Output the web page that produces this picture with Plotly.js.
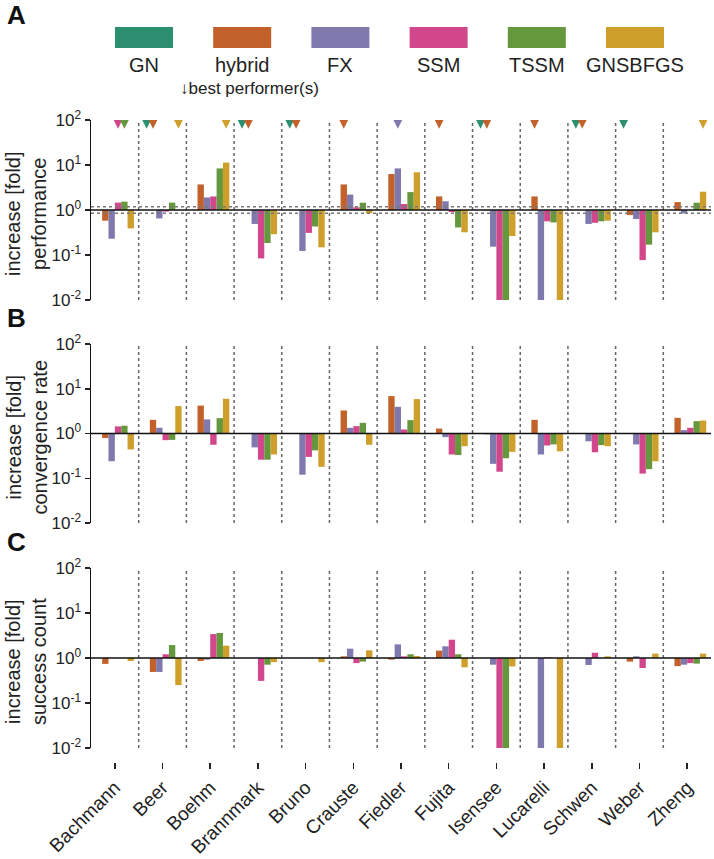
<!DOCTYPE html>
<html>
<head>
<meta charset="utf-8">
<script src="https://cdn.plot.ly/plotly-3.0.1.min.js"></script>
<style>html,body{margin:0;padding:0;background:#fff}</style>
</head>
<body>
<div id="chart" style="width:714px;height:859px"></div>
<script>
var models = ['Bachmann', 'Beer', 'Boehm', 'Brannmark', 'Bruno', 'Crauste', 'Fiedler',
              'Fujita', 'Isensee', 'Lucarelli', 'Schwen', 'Weber', 'Zheng'];
var methods = ['GN', 'hybrid', 'FX', 'SSM', 'TSSM', 'GNSBFGS'];
var colors = ['#2b8f70', '#c2622a', '#7f79ae', '#d2478b', '#65973c', '#cf9f2c'];

// fold increase relative to GN (GN is the reference, so it stays at 1)
var perfGN      = [1, 1, 1, 1, 1, 1, 1, 1, 1, 1, 1, 1, 1];
var perfHybrid  = [0.58, 1, 3.7, 1, 1, 3.7, 6.3, 2.0, 0.97, 2.0, 1, 0.77, 1.5];
var perfFX      = [0.23, 0.65, 1.9, 0.49, 0.123, 2.2, 8.4, 1.56, 0.153, 0.01, 0.49, 0.63, 0.84];
var perfSSM     = [1.46, 0.92, 2.0, 0.084, 0.31, 1.15, 1.36, 0.9, 0.01, 0.56, 0.52, 0.077, 1];
var perfTSSM    = [1.53, 1.46, 8.4, 0.185, 0.43, 1.45, 2.5, 0.41, 0.01, 0.53, 0.56, 0.17, 1.45];
var perfGNSBFGS = [0.39, 1, 11.3, 0.29, 0.148, 0.85, 6.9, 0.32, 0.264, 0.01, 0.58, 0.32, 2.55];

var convGN      = [1, 1, 1, 1, 1, 1, 1, 1, 1, 1, 1, 1, 1];
var convHybrid  = [0.79, 2.02, 4.2, 1, 0.98, 3.27, 6.85, 1.29, 0.96, 2.02, 1.01, 0.98, 2.24];
var convFX      = [0.24, 1.34, 2.06, 0.49, 0.12, 1.34, 3.95, 0.83, 0.21, 0.34, 0.67, 0.57, 1.19];
var convSSM     = [1.44, 0.71, 0.56, 0.26, 0.30, 1.46, 1.23, 0.34, 0.14, 0.54, 0.38, 0.127, 1.34];
var convTSSM    = [1.49, 0.72, 2.2, 0.26, 0.42, 1.73, 1.99, 0.33, 0.28, 0.57, 0.55, 0.16, 1.89];
var convGNSBFGS = [0.44, 4.1, 5.97, 0.34, 0.18, 0.56, 5.87, 0.52, 0.39, 0.40, 0.52, 0.24, 1.95];

var succGN      = [1, 1, 1, 1, 1, 1, 1, 1, 1, 1, 1, 1, 1];
var succHybrid  = [0.74, 0.49, 0.86, 1, 1, 1.09, 0.92, 1.46, 1, 1, 1, 0.83, 0.66];
var succFX      = [1, 0.49, 0.92, 1, 1, 1.61, 2.01, 1.82, 0.71, 0.01, 0.70, 1.09, 0.71];
var succSSM     = [1, 1.21, 3.4, 0.31, 1, 0.77, 1.09, 2.55, 0.01, 1.03, 1.31, 0.6, 0.77];
var succTSSM    = [1, 1.94, 3.6, 0.71, 1, 0.83, 1.21, 1.21, 0.01, 1, 1, 1, 0.75];
var succGNSBFGS = [0.86, 0.25, 1.88, 0.81, 0.81, 1.48, 1.11, 0.62, 0.65, 0.01, 1.09, 1.25, 1.25];

// best performer(s) per model, by method
var bestGN      = ['Beer', 'Brannmark', 'Bruno', 'Isensee', 'Schwen', 'Weber'];
var bestHybrid  = ['Beer', 'Brannmark', 'Bruno', 'Crauste', 'Fujita', 'Isensee', 'Lucarelli', 'Schwen'];
var bestFX      = ['Fiedler'];
var bestSSM     = ['Bachmann'];
var bestTSSM    = ['Bachmann'];
var bestGNSBFGS = ['Beer', 'Boehm', 'Zheng'];

var tolerance = [0.85, 1.18];

// page geometry (pixels)
var W = 714, H = 859, L = 91, R = 3, T = 120, B = 97;
function px(x) { return (x - L) / (W - L - R); }
function py(y) { return (H - B - y) / (H - T - B); }

var font = 'Liberation Sans, Arial, sans-serif';

var panels = [
  {yaxis: 'y',  vals: [perfGN, perfHybrid, perfFX, perfSSM, perfTSSM, perfGNSBFGS],
   top: 120, bottom: 300, label: 'A', title: 'increase [fold]<br>performance'},
  {yaxis: 'y2', vals: [convGN, convHybrid, convFX, convSSM, convTSSM, convGNSBFGS],
   top: 344, bottom: 523, label: 'B', title: 'increase [fold]<br>convergence rate'},
  {yaxis: 'y3', vals: [succGN, succHybrid, succFX, succSSM, succTSSM, succGNSBFGS],
   top: 568, bottom: 748, label: 'C', title: 'increase [fold]<br>success count'}
];
var best = [bestGN, bestHybrid, bestFX, bestSSM, bestTSSM, bestGNSBFGS];

var data = [];
panels.forEach(function(p) {
  methods.forEach(function(m, k) {
    var v = p.vals[k];
    data.push({
      type: 'bar',
      name: m,
      x: models,
      y: v.map(function(d) { return Math.abs(d - 1); }),
      base: v.map(function(d) { return Math.min(d, 1); }),
      xaxis: 'x',
      yaxis: p.yaxis,
      offsetgroup: m,
      marker: {color: colors[k], line: {width: 0}},
      showlegend: false,
      hoverinfo: 'skip'
    });
  });
});

methods.forEach(function(m, k) {
  data.push({
    type: 'scatter',
    mode: 'markers',
    name: m,
    x: best[k],
    y: best[k].map(function() { return 64; }),
    xaxis: 'x',
    yaxis: 'y',
    offsetgroup: m,
    marker: {symbol: 'arrow-down', size: 12, color: colors[k]},
    showlegend: false,
    hoverinfo: 'skip'
  });
});

var tickvals = [0.01, 0.1, 1, 10, 100];
var ticktext = ['10<sup>-2</sup>', '10<sup>-1</sup>', '10<sup>0</sup>', '10<sup>1</sup>', '10<sup>2</sup>'];

function yAxis(p) {
  return {
    type: 'log',
    range: [-2, 2],
    domain: [py(p.bottom), py(p.top)],
    anchor: 'x',
    tickvals: tickvals,
    ticktext: ticktext,
    ticks: 'outside',
    ticklen: 5,
    tickwidth: 1.5,
    tickcolor: '#222',
    showline: true,
    linecolor: '#111',
    linewidth: 1.5,
    showgrid: false,
    zeroline: false,
    tickfont: {family: font, size: 17, color: '#222'}
  };
}

var shapes = [];
var annotations = [];

function logFrac(v) { return (Math.log10(v) + 2) / 4; }

panels.forEach(function(p) {
  for (var i = 1; i < models.length; i++) {
    shapes.push({type: 'line', xref: 'x', yref: p.yaxis + ' domain',
      x0: i - 0.5, x1: i - 0.5, y0: 0, y1: 1,
      line: {color: '#666', width: 1.5, dash: 'dot'}});
  }
  if (p.label === 'A') {
    tolerance.forEach(function(t) {
      shapes.push({type: 'line', xref: 'x domain', yref: p.yaxis + ' domain',
        x0: 0, x1: 1, y0: logFrac(t), y1: logFrac(t),
        line: {color: '#777', width: 1.5, dash: 'dot'}});
    });
  }
  shapes.push({type: 'line', xref: 'x domain', yref: p.yaxis + ' domain',
    x0: 0, x1: 1, y0: logFrac(1), y1: logFrac(1),
    line: {color: '#111', width: 1.5}});

  annotations.push({xref: 'paper', yref: 'paper', x: px(5), y: py(p.label === 'A' ? 15 : p.top - 26),
    xanchor: 'left', yanchor: 'middle', showarrow: false, text: '<b>' + p.label + '</b>',
    font: {family: font, size: 26, color: '#111'}});
  annotations.push({xref: 'paper', yref: 'paper', x: px(26), y: py((p.top + p.bottom) / 2 + 4),
    xanchor: 'center', yanchor: 'middle', showarrow: false, textangle: -90,
    text: p.title, font: {family: font, size: 20, color: '#222'}});
});

// legend: colour boxes with labels underneath
methods.forEach(function(m, k) {
  var left = 115 + k * 98.2;
  shapes.push({type: 'rect', xref: 'paper', yref: 'paper',
    x0: px(left), x1: px(left + 58), y0: py(48), y1: py(27),
    fillcolor: colors[k], line: {width: 0}});
  annotations.push({xref: 'paper', yref: 'paper', x: px(left + 29), y: py(65),
    xanchor: 'center', yanchor: 'middle', showarrow: false, text: m,
    font: {family: font, size: 20, color: '#222'}});
});
annotations.push({xref: 'paper', yref: 'paper', x: px(178), y: py(88),
  xanchor: 'left', yanchor: 'middle', showarrow: false, text: '↓best performer(s)',
  font: {family: font, size: 17, color: '#222'}});

var layout = {
  width: W,
  height: H,
  margin: {l: L, r: R, t: T, b: B},
  paper_bgcolor: '#fff',
  plot_bgcolor: 'rgba(0,0,0,0)',
  barmode: 'group',
  bargap: 0.2,
  bargroupgap: 0,
  scattermode: 'group',
  scattergap: 0.2,
  showlegend: false,
  font: {family: font, color: '#222'},
  xaxis: {
    type: 'category',
    categoryorder: 'array',
    categoryarray: models,
    range: [-0.5, models.length - 0.5],
    anchor: 'free',
    position: 0,
    showline: false,
    showgrid: false,
    zeroline: false,
    ticks: 'outside',
    ticklen: 6,
    tickwidth: 1.5,
    tickcolor: '#222',
    tickangle: -45,
    tickfont: {family: font, size: 19, color: '#222'}
  },
  yaxis: yAxis(panels[0]),
  yaxis2: yAxis(panels[1]),
  yaxis3: yAxis(panels[2]),
  shapes: shapes,
  annotations: annotations
};

Plotly.newPlot('chart', data, layout, {displayModeBar: false, staticPlot: true});
</script>
</body>
</html>
